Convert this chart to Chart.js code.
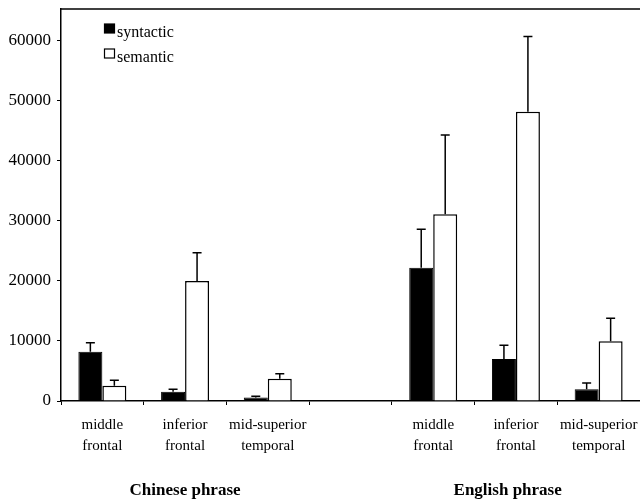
<!DOCTYPE html>
<html>
<head>
<meta charset="utf-8">
<script src="https://cdn.jsdelivr.net/npm/chart.js@4"></script>
<style>
  html, body { margin: 0; padding: 0; background: #fff; }
  #wrap { width: 640px; height: 503px; }
</style>
</head>
<body>
<div id="wrap"><canvas id="brainChart"></canvas></div>
<script>
  // regions, per phrase group (empty slot between the groups)
  const regions = [['middle', 'frontal'], ['inferior', 'frontal'], ['mid-superior', 'temporal'], '',
                   ['middle', 'frontal'], ['inferior', 'frontal'], ['mid-superior', 'temporal']];
  const groups = ['Chinese phrase', 'English phrase'];
  const groupSlots = [1, 4.9];

  const syntactic = [8200, 1550, 600, null, 22200, 7000, 1950];
  const syntacticErr = [1500, 400, 200, null, 6400, 2300, 1050];
  const semantic = [2550, 20000, 3700, null, 31100, 48200, 9950];
  const semanticErr = [900, 4700, 850, null, 13200, 12500, 3850];

  const yTicks = [0, 10000, 20000, 30000, 40000, 50000, 60000];

  const serif = 'Liberation Serif';

  const extras = {
    id: 'extras',
    afterDatasetsDraw(chart) {
      const ctx = chart.ctx;
      const area = chart.chartArea;
      const y = chart.scales.y;
      const x = chart.scales.x;
      ctx.save();
      ctx.strokeStyle = '#000';

      // error bars
      ctx.lineWidth = 1.5;
      const errs = [syntacticErr, semanticErr];
      chart.data.datasets.forEach((ds, di) => {
        chart.getDatasetMeta(di).data.forEach((bar, i) => {
          if (ds.data[i] == null) return;
          const top = y.getPixelForValue(ds.data[i] + errs[di][i]);
          ctx.beginPath();
          ctx.moveTo(bar.x, bar.y);
          ctx.lineTo(bar.x, top);
          ctx.moveTo(bar.x - 4.5, top);
          ctx.lineTo(bar.x + 4.5, top);
          ctx.stroke();
        });
      });

      // top frame line
      ctx.lineWidth = 1.5;
      ctx.beginPath();
      ctx.moveTo(area.left, area.top);
      ctx.lineTo(chart.width, area.top);
      ctx.stroke();

      // legend inside plot
      ctx.font = '16px ' + serif;
      ctx.textBaseline = 'alphabetic';
      ctx.textAlign = 'left';
      chart.data.datasets.forEach((ds, di) => {
        const by = 24 + di * 25;
        ctx.fillStyle = ds.backgroundColor;
        ctx.fillRect(104.5, by, 10, 9);
        ctx.lineWidth = 1.2;
        ctx.strokeRect(104.5, by, 10, 9);
        ctx.fillStyle = '#000';
        ctx.fillText(ds.label, 117, by + 13);
      });

      // group labels
      ctx.font = 'bold 17px ' + serif;
      ctx.textAlign = 'center';
      groups.forEach((g, i) => {
        ctx.fillText(g, x.getPixelForValue(groupSlots[i]), 495);
      });
      ctx.restore();
    }
  };

  new Chart(document.getElementById('brainChart'), {
    type: 'bar',
    data: {
      labels: regions,
      datasets: [
        { label: 'syntactic', data: syntactic, backgroundColor: '#000', borderColor: '#000', borderWidth: 1 },
        { label: 'semantic', data: semantic, backgroundColor: '#fff', borderColor: '#000', borderWidth: 1.5 }
      ]
    },
    options: {
      responsive: true,
      maintainAspectRatio: false,
      animation: false,
      layout: { padding: { top: 9, right: 0, left: 0, bottom: 0 } },
      datasets: { bar: { categoryPercentage: 0.58, barPercentage: 1.0 } },
      plugins: { legend: { display: false }, tooltip: { enabled: false } },
      scales: {
        x: {
          afterFit: s => { s.height = 102; s.paddingLeft = 0; s.paddingRight = 0; },
          grid: { display: true, drawOnChartArea: false, drawTicks: true, tickLength: 4, color: '#000', offset: true },
          border: { display: true, color: '#000', width: 1.5 },
          ticks: { color: '#000', font: { family: serif, size: 15, lineHeight: 1.4 }, padding: 10, maxRotation: 0, autoSkip: false }
        },
        y: {
          min: 0,
          max: 65300,
          afterFit: s => { s.width = 61; s.paddingTop = 0; s.paddingBottom = 0; },
          afterBuildTicks: s => { s.ticks = yTicks.map(v => ({ value: v })); },
          grid: { display: true, drawOnChartArea: false, drawTicks: true, tickLength: 4, color: '#000' },
          border: { display: true, color: '#000', width: 1.5 },
          ticks: { color: '#000', font: { family: serif, size: 17 }, padding: 6, callback: v => String(v) }
        }
      }
    },
    plugins: [extras]
  });
</script>
</body>
</html>
